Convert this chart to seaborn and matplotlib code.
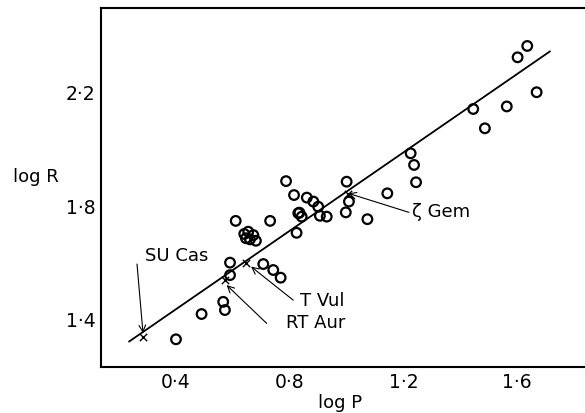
import matplotlib
matplotlib.use("Agg")
import matplotlib.pyplot as plt
import seaborn as sns
import pandas as pd

# ---- data ----
log_p = [0.400, 0.490, 0.566, 0.572, 0.590, 0.590, 0.610, 0.731,
         0.640, 0.654, 0.672, 0.646, 0.660, 0.681,
         0.707, 0.742, 0.768, 0.787, 0.815, 0.830, 0.824,
         0.860, 0.883, 0.900, 0.834, 0.842, 0.906, 0.930,
         1.000, 1.008, 0.997, 1.073, 1.143,
         1.225, 1.237, 1.244, 1.445, 1.486, 1.563, 1.601, 1.635, 1.668]
log_r = [1.332, 1.421, 1.464, 1.435, 1.602, 1.558, 1.749, 1.749,
         1.703, 1.711, 1.699, 1.688, 1.684, 1.679,
         1.597, 1.576, 1.549, 1.889, 1.840, 1.776, 1.707,
         1.831, 1.817, 1.799, 1.778, 1.764, 1.767, 1.764,
         1.887, 1.817, 1.779, 1.755, 1.846,
         1.987, 1.946, 1.885, 2.143, 2.075, 2.152, 2.325, 2.365, 2.202]

fit_p = [0.235, 1.715]
fit_r = [1.324, 2.346]

named_stars = ["SU Cas", "RT Aur", "T Vul", "ζ Gem"]
named_p = [0.284, 0.572, 0.646, 1.005]
named_r = [1.339, 1.541, 1.601, 1.844]
label_p = [0.291, 0.787, 0.836, 1.229]
label_r = [1.625, 1.391, 1.466, 1.780]
arrow_from_p = [0.263, 0.719, 0.812, 1.219]
arrow_from_r = [1.597, 1.388, 1.470, 1.779]
arrow_to_p = [0.284, 0.578, 0.664, 1.006]
arrow_to_r = [1.354, 1.523, 1.588, 1.846]

x_ticks = [0.4, 0.6, 0.8, 1.0, 1.2, 1.4, 1.6]
x_ticklabels = ["0·4", "", "0·8", "", "1·2", "", "1·6"]
y_ticks = [1.4, 1.6, 1.8, 2.0, 2.2, 2.4]
y_ticklabels = ["1·4", "", "1·8", "", "2·2", ""]

# ---- figure ----
sns.set_theme(style="white")
plt.rcParams["font.family"] = ["DejaVu Sans"]

fig = plt.figure(figsize=(5.85, 4.13), dpi=100)
ax = fig.add_axes([0.1726, 0.1114, 0.8274, 0.8692])

df = pd.DataFrame({"log P": log_p, "log R": log_r})
sns.scatterplot(data=df, x="log P", y="log R", ax=ax, marker="o", s=48,
                facecolor="none", edgecolor="black", linewidth=1.6, zorder=3)

fit = pd.DataFrame({"log P": fit_p, "log R": fit_r})
sns.lineplot(data=fit, x="log P", y="log R", ax=ax, color="black",
             linewidth=1.3, zorder=2)

named = pd.DataFrame({"log P": named_p, "log R": named_r})
sns.scatterplot(data=named, x="log P", y="log R", ax=ax, marker="x", s=28,
                color="black", linewidth=1.0, zorder=4)

for name, lx, ly, fx, fy, tx, ty in zip(named_stars, label_p, label_r,
                                         arrow_from_p, arrow_from_r,
                                         arrow_to_p, arrow_to_r):
    ax.text(lx, ly, name, fontsize=13, ha="left", va="center", color="black")
    ax.annotate("", xy=(tx, ty), xytext=(fx, fy),
                arrowprops=dict(arrowstyle="->", color="black", lw=0.8,
                                shrinkA=0, shrinkB=0))

ax.set_xlim(0.1363, 1.838)
ax.set_ylim(1.2345, 2.4986)
ax.set_xticks(x_ticks)
ax.set_xticklabels(x_ticklabels)
ax.set_yticks(y_ticks)
ax.set_yticklabels(y_ticklabels)
ax.tick_params(axis="both", direction="in", length=7, width=1.3,
               labelsize=13.5, pad=4, colors="black")

for side in ["left", "bottom", "top"]:
    ax.spines[side].set_visible(True)
    ax.spines[side].set_color("black")
    ax.spines[side].set_linewidth(1.5)
ax.spines["right"].set_visible(False)

ax.set_xlabel("log P", fontsize=13, color="black", va="center")
ax.set_ylabel("log R", fontsize=13, color="black", rotation=0,
              ha="center", va="center")
ax.xaxis.set_label_coords(0.494, -0.10)
ax.yaxis.set_label_coords(-0.134, 0.529)
ax.grid(False)

fig.savefig("out.png", dpi=100)
